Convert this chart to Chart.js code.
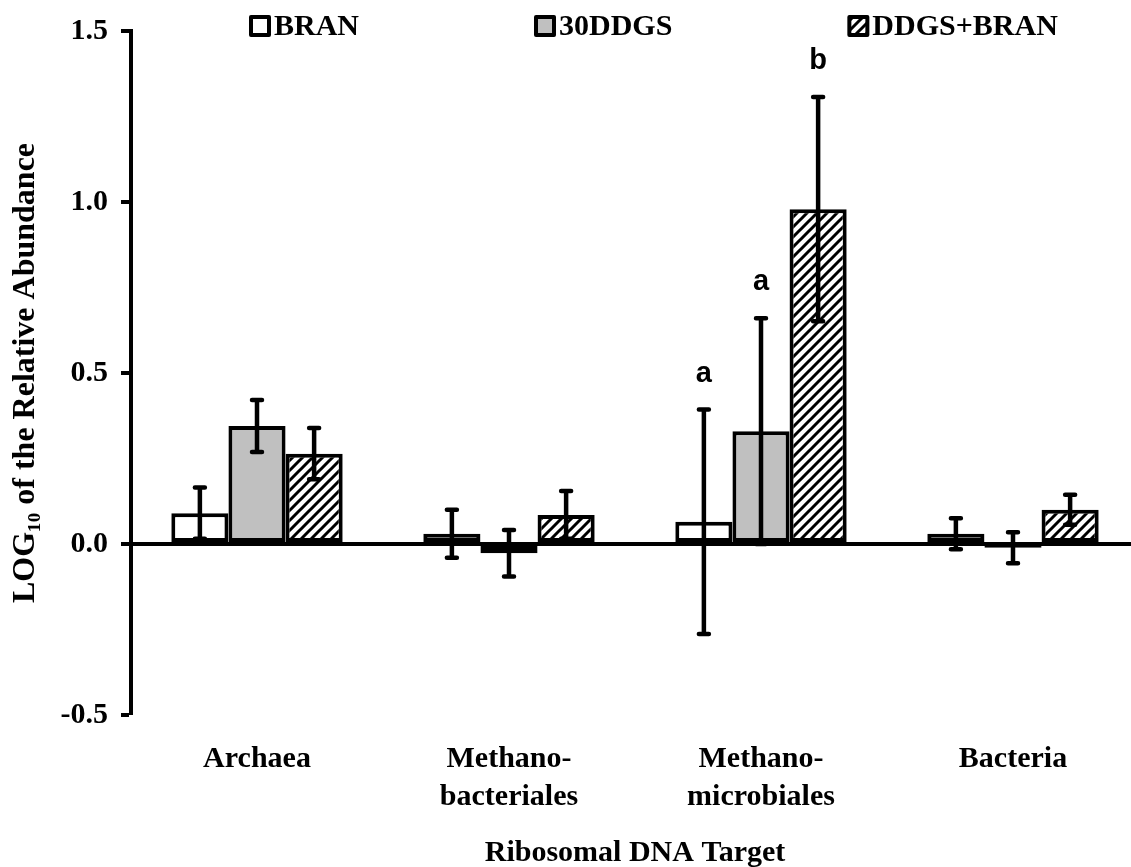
<!DOCTYPE html>
<html>
<head>
<meta charset="utf-8">
<script src="https://cdn.jsdelivr.net/npm/chart.js@4.4.1/dist/chart.umd.min.js"></script>
<style>
  html, body { margin: 0; padding: 0; background: #fff; overflow: hidden; }
  canvas { display: block; }
</style>
</head>
<body>
<canvas id="chart" width="1140" height="867"></canvas>
<script>
// Ribosomal DNA targets on the category axis
const categories = ['Archaea', ['Methano-', 'bacteriales'], ['Methano-', 'microbiales'], 'Bacteria'];

// Diet treatments
const seriesNames = ['BRAN', '30DDGS', 'DDGS+BRAN'];

// LOG10 relative abundance (means) and their error half-widths
const branValues = [0.090, 0.030, 0.065, 0.030];
const branErrors = [0.075, 0.070, 0.328, 0.045];
const ddgsValues = [0.345, -0.027, 0.330, -0.011];
const ddgsErrors = [0.076, 0.068, 0.330, 0.045];
const mixValues  = [0.264, 0.085, 0.979, 0.100];
const mixErrors  = [0.075, 0.070, 0.328, 0.044];

// Significance letters above the error bars
const branLetters = ['', '', 'a', ''];
const ddgsLetters = ['', '', 'a', ''];
const mixLetters  = ['', '', 'b', ''];

// Y axis tick labels, bottom to top
const yTickLabels = ['-0.5', '0.0', '0.5', '1.0', '1.5'];

const SERIF = '"Liberation Serif", "Times New Roman", serif';
const SANS = '"Liberation Sans", Arial, sans-serif';

// Diagonal hatch fill
function makeHatch() {
  const s = 10;
  const c = document.createElement('canvas');
  c.width = s; c.height = s;
  const g = c.getContext('2d');
  g.fillStyle = '#fff';
  g.fillRect(0, 0, s, s);
  g.strokeStyle = '#000';
  g.lineWidth = 3;
  g.beginPath();
  g.moveTo(-2, s + 2); g.lineTo(s + 2, -2);
  g.moveTo(-3, 3); g.lineTo(3, -3);
  g.moveTo(s - 3, s + 3); g.lineTo(s + 3, s - 3);
  g.stroke();
  return document.getElementById('chart').getContext('2d').createPattern(c, 'repeat');
}
const hatch = makeHatch();

const errorSets = [branErrors, ddgsErrors, mixErrors];
const letterSets = [branLetters, ddgsLetters, mixLetters];

// Error bars with caps, drawn over the bars, plus significance letters
const errorBarPlugin = {
  id: 'errorBars',
  afterDatasetsDraw(chart) {
    const ctx = chart.ctx;
    const y = chart.scales.y;
    ctx.save();
    ctx.strokeStyle = '#000';
    ctx.lineWidth = 4.5;
    ctx.lineCap = 'round';
    chart.data.datasets.forEach((ds, i) => {
      const meta = chart.getDatasetMeta(i);
      meta.data.forEach((bar, j) => {
        const v = ds.data[j];
        const e = errorSets[i][j];
        const top = y.getPixelForValue(v + e);
        const bot = y.getPixelForValue(v - e);
        const x = bar.x;
        ctx.beginPath();
        ctx.moveTo(x, top); ctx.lineTo(x, bot);
        ctx.moveTo(x - 5, top); ctx.lineTo(x + 5, top);
        ctx.moveTo(x - 5, bot); ctx.lineTo(x + 5, bot);
        ctx.stroke();
      });
    });
    ctx.fillStyle = '#000';
    ctx.font = 'bold 29px ' + SANS;
    ctx.textAlign = 'center';
    ctx.textBaseline = 'middle';
    chart.data.datasets.forEach((ds, i) => {
      const meta = chart.getDatasetMeta(i);
      meta.data.forEach((bar, j) => {
        const t = letterSets[i][j];
        if (!t) return;
        const top = y.getPixelForValue(ds.data[j] + errorSets[i][j]);
        ctx.fillText(t, bar.x, top - 36);
      });
    });
    ctx.restore();
  }
};

// Legend row across the top
const topLegendPlugin = {
  id: 'topLegend',
  afterDraw(chart, args, opts) {
    const ctx = chart.ctx;
    ctx.save();
    ctx.font = 'bold ' + opts.fontSize + 'px ' + SERIF;
    ctx.textBaseline = 'middle';
    ctx.textAlign = 'left';
    let x = opts.x;
    const yc = opts.y;
    const b = opts.boxSize;
    chart.data.datasets.forEach(ds => {
      ctx.beginPath();
      ctx.rect(x, yc - b / 2, b, b);
      ctx.fillStyle = ds.backgroundColor;
      ctx.fill();
      ctx.lineWidth = 4;
      ctx.lineJoin = 'round';
      ctx.strokeStyle = '#000';
      ctx.stroke();
      ctx.fillStyle = '#000';
      const tx = x + b + opts.textGap;
      ctx.fillText(ds.label, tx, yc + 1);
      x = tx + ctx.measureText(ds.label).width + opts.itemGap;
    });
    ctx.restore();
  }
};

new Chart(document.getElementById('chart'), {
  type: 'bar',
  data: {
    labels: categories,
    datasets: [
      { label: seriesNames[0], data: branValues, backgroundColor: '#ffffff' },
      { label: seriesNames[1], data: ddgsValues, backgroundColor: '#c0c0c0' },
      { label: seriesNames[2], data: mixValues, backgroundColor: hatch }
    ]
  },
  options: {
    responsive: false,
    animation: false,
    devicePixelRatio: 1,
    layout: { padding: { top: 27.5, right: 1, bottom: 0, left: 0 } },
    datasets: {
      bar: {
        borderColor: '#000',
        borderWidth: 4,
        borderSkipped: false,
        categoryPercentage: 0.68,
        barPercentage: 1.0
      }
    },
    plugins: {
      legend: { display: false },
      tooltip: { enabled: false },
      topLegend: { x: 251, y: 26, boxSize: 18, textGap: 5, itemGap: 177, fontSize: 30 }
    },
    scales: {
      x: {
        grid: { display: false },
        border: { display: false },
        ticks: {
          color: '#000',
          padding: 17,
          maxRotation: 0,
          autoSkip: false,
          font: { family: SERIF, size: 30, weight: 'bold', lineHeight: 1.27 }
        },
        title: {
          display: true,
          text: 'Ribosomal DNA Target',
          color: '#000',
          padding: { top: 0, bottom: 0 },
          font: { family: SERIF, size: 30, weight: 'bold', lineHeight: 0.95 }
        },
        afterFit(scale) { scale.height = 152; }
      },
      y: {
        min: -0.5,
        max: 1.5,
        ticks: {
          stepSize: 0.5,
          color: '#000',
          padding: 13,
          font: { family: SERIF, size: 30, weight: 'bold' },
          callback: (v, i) => yTickLabels[i]
        },
        grid: {
          color: c => (c.tick && c.tick.value === 0 ? '#000' : 'rgba(0,0,0,0)'),
          lineWidth: c => (c.tick && c.tick.value === 0 ? 4 : 0),
          tickColor: '#000',
          tickWidth: 4,
          tickLength: 10
        },
        border: { display: true, color: '#000', width: 4 },
        title: {
          display: true,
          text: 'LOG\u2081\u2080 of the Relative Abundance',
          color: '#000',
          padding: { top: 7, bottom: 0 },
          font: { family: SERIF, size: 32, weight: 'bold' }
        },
        afterFit(scale) { scale.width = 131; }
      }
    }
  },
  plugins: [errorBarPlugin, topLegendPlugin]
});
</script>
</body>
</html>
